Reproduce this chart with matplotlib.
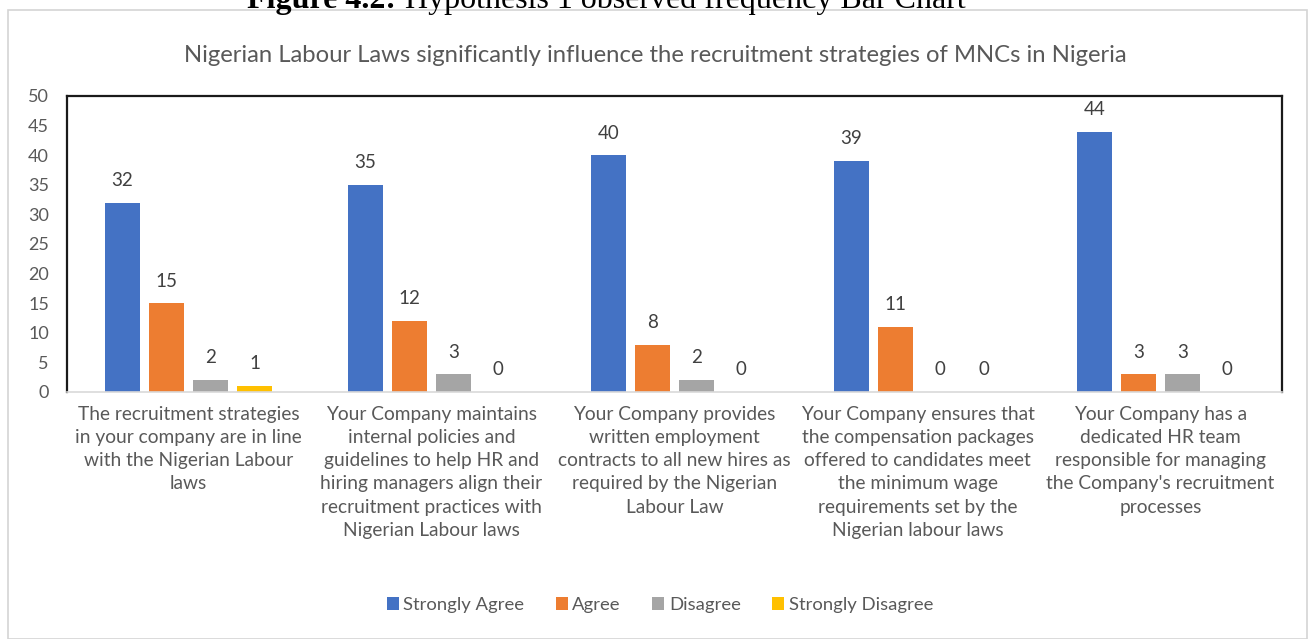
import numpy as np
import matplotlib.pyplot as plt
from matplotlib.patches import Rectangle

# Chart data
categories = [
    "The recruitment strategies\nin your company are in line\nwith the Nigerian Labour\nlaws",
    "Your Company maintains\ninternal policies and\nguidelines to help HR and\nhiring managers align their\nrecruitment practices with\nNigerian Labour laws",
    "Your Company provides\nwritten employment\ncontracts to all new hires as\nrequired by the Nigerian\nLabour Law",
    "Your Company ensures that\nthe compensation packages\noffered to candidates meet\nthe minimum wage\nrequirements set by the\nNigerian labour laws",
    "Your Company has a\ndedicated HR team\nresponsible for managing\nthe Company's recruitment\nprocesses",
]
series_names = ["Strongly Agree", "Agree", "Disagree", "Strongly Disagree"]
strongly_agree = [32, 35, 40, 39, 44]
agree = [15, 12, 8, 11, 3]
disagree = [2, 3, 2, 0, 3]
strongly_disagree = [1, 0, 0, 0, 0]
series_values = [strongly_agree, agree, disagree, strongly_disagree]
colors = ["#4472C4", "#ED7D31", "#A5A5A5", "#FFC000"]

title = "Nigerian Labour Laws significantly influence the recruitment strategies of MNCs in Nigeria"
caption_bold = "Figure 4.2:"
caption_rest = "Hypothesis 1 observed frequency Bar Chart"
y_ticks = np.arange(0, 51, 5)

plt.rcParams['font.family'] = ['Lato', 'DejaVu Sans']
text_gray = "#595959"

W, H = 1313, 639
fig = plt.figure(figsize=(W / 100, H / 100), dpi=100)
fig.patch.set_facecolor("white")

# outer chart frame
fig.patches.append(Rectangle((8 / W, 0.0), (1307 - 8) / W, 1 - 10 / H,
                             transform=fig.transFigure, fill=False,
                             edgecolor="#D4D4D4", linewidth=1.2))

# cropped figure caption above the chart (only its lower half shows)
renderer = fig.canvas.get_renderer()
cap1 = fig.text(247 / W, 1 - 8 / H, caption_bold, fontfamily="Liberation Serif",
                fontweight="bold", fontsize=23, ha="left", va="baseline",
                color="black")
bb = cap1.get_window_extent(renderer)
fig.text((bb.x1 + 9) / W, 1 - 8 / H, caption_rest,
         fontfamily="Liberation Serif", fontsize=23, ha="left", va="baseline",
         color="black")

ax = fig.add_axes([67 / W, 1 - 392 / H, (1282 - 67) / W, (392 - 96) / H])

x = np.arange(len(categories))
step = 0.181
bar_w = 0.144
for k, (name, vals, c) in enumerate(zip(series_names, series_values, colors)):
    pos = x + (k - 1.5) * step
    bars = ax.bar(pos, vals, width=bar_w, color=c, label=name, zorder=2)
    for b, v in zip(bars, vals):
        ax.annotate(str(v), (b.get_x() + b.get_width() / 2, v),
                    xytext=(0, 12), textcoords="offset points",
                    ha="center", va="baseline", fontsize=13.5, color="#404040")

ax.set_xlim(-0.5, len(categories) - 0.5)
ax.set_ylim(0, 50)
ax.set_yticks(y_ticks)
ax.tick_params(axis="y", length=0, pad=13, labelsize=13, labelcolor=text_gray)
ax.set_xticks(x)
ax.set_xticklabels(categories, fontsize=13.8, color=text_gray, linespacing=1.44,
                   va="top")
ax.tick_params(axis="x", length=0, pad=10)

for s in ["top", "left", "right"]:
    ax.spines[s].set_color("#1a1a1a")
    ax.spines[s].set_linewidth(1.6)
ax.spines["bottom"].set_color("#D9D9D9")
ax.spines["bottom"].set_linewidth(1.2)

fig.text(655 / W, 1 - 55 / H, title, fontsize=17.2, color=text_gray,
         ha="center", va="center")

fig.legend(loc="center", bbox_to_anchor=(660 / W, 1 - 605 / H), ncol=4,
           frameon=False, fontsize=13.3, handlelength=0.65, handleheight=0.65,
           handletextpad=0.25, columnspacing=1.7, labelcolor=text_gray)

fig.savefig("out.png", dpi=100)
